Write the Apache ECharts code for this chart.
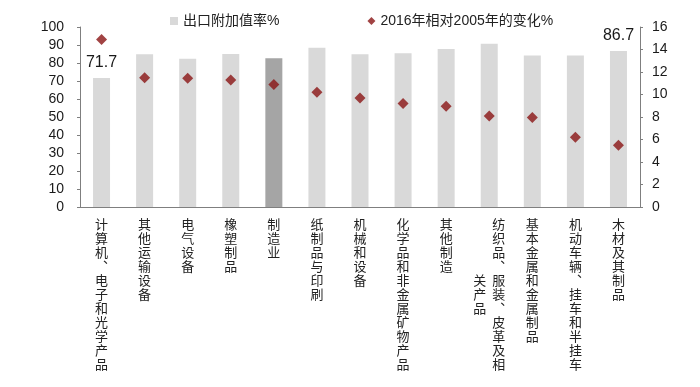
<!DOCTYPE html>
<html><head><meta charset="utf-8">
<script src="https://cdn.jsdelivr.net/npm/echarts@6/dist/echarts.min.js"></script>
<style>html,body{margin:0;padding:0;background:#fff}#c{width:700px;height:387px}</style>
</head><body><div id="c"></div>
<script>
var categories = ['计算机、电子和光学产品','其他运输设备','电气设备','橡塑制品','制造业','纸制品与印刷','机械和设备','化学品和非金属矿物产品','其他制造','纺织品、服装、皮革及相关产品','基本金属和金属制品','机动车辆、挂车和半挂车','木材及其制品'];
var valueAddedRate = [71.7, 84.8, 82.4, 85.0, 82.6, 88.5, 84.8, 85.4, 87.8, 90.7, 84.1, 84.1, 86.7];
var change2016vs2005 = [14.9, 11.5, 11.45, 11.3, 10.9, 10.2, 9.7, 9.2, 8.95, 8.1, 7.95, 6.2, 5.5];
var leftTicks = {min: 0, max: 100, interval: 10};
var rightTicks = {min: 0, max: 16, interval: 2};
var highlightCategory = '制造业';
var labeledIdx = [0, 12];

var MAXROWS = 11;
function vchar(ch) { return ch === '、' ? '︑' : ch; }
function vertLabel(v) {
  var chars = Array.from(v).map(vchar);
  if (chars.length <= MAXROWS) {
    return chars.map(function(ch){ return '{c|' + ch + '}'; }).join('\n');
  }
  var col1 = chars.slice(0, MAXROWS), col2 = chars.slice(MAXROWS);
  var start = Math.floor((MAXROWS - col2.length) / 2);
  var lines = [];
  for (var i = 0; i < MAXROWS; i++) {
    var left = (i >= start && i < start + col2.length) ? col2[i - start] : '　';
    lines.push('{w|' + left + '}{w|' + col1[i] + '}');
  }
  return lines.join('\n');
}

var barData = valueAddedRate.map(function(v, i){
  var item = {value: v};
  if (categories[i] === highlightCategory) item.itemStyle = {color: '#a5a5a5'};
  if (labeledIdx.indexOf(i) >= 0) item.label = {show: true, position: 'top', distance: 7, fontSize: 16, color: '#1a1a1a', fontFamily: 'Liberation Sans, Arial'};
  return item;
});

var chart = echarts.init(document.getElementById('c'), null, {renderer: 'canvas'});
chart.setOption({
  backgroundColor: '#fff',
  animation: false,
  textStyle: {fontFamily: 'Liberation Sans, Arial, Noto Sans CJK SC'},
  legend: {
    left: 165, top: 9, itemGap: 88, itemWidth: 8, itemHeight: 8,
    textStyle: {fontSize: 14, color: '#222', fontFamily: 'Liberation Sans, Noto Sans CJK SC'},
    data: [{name: '出口附加值率%', icon: 'rect'}, {name: '2016年相对2005年的变化%', icon: 'diamond'}]
  },
  grid: {left: 80, right: 60, top: 27, bottom: 180},
  xAxis: {
    type: 'category', data: categories,
    axisLine: {lineStyle: {color: '#7f7f7f', width: 1}},
    axisTick: {show: false},
    axisLabel: {
      interval: 0, margin: 10, formatter: vertLabel,
      rich: {
        c: {fontSize: 13, lineHeight: 14, color: '#222', fontFamily: 'Noto Sans CJK SC', align: 'center'},
        w: {fontSize: 13, lineHeight: 14, width: 19, color: '#222', fontFamily: 'Noto Sans CJK SC', align: 'center'}
      }
    }
  },
  yAxis: [
    {type: 'value', min: leftTicks.min, max: leftTicks.max, interval: leftTicks.interval,
     axisLine: {show: true, lineStyle: {color: '#7f7f7f'}},
     axisTick: {show: true, length: 3, lineStyle: {color: '#7f7f7f'}},
     splitLine: {show: false},
     axisLabel: {fontSize: 14, color: '#1a1a1a', margin: 16}},
    {type: 'value', min: rightTicks.min, max: rightTicks.max, interval: rightTicks.interval, position: 'right',
     axisLine: {show: true, lineStyle: {color: '#7f7f7f'}},
     axisTick: {show: true, length: 3, lineStyle: {color: '#7f7f7f'}},
     splitLine: {show: false},
     axisLabel: {fontSize: 14, color: '#1a1a1a', margin: 12}}
  ],
  series: [
    {name: '出口附加值率%', type: 'bar', yAxisIndex: 0, barWidth: 17, data: barData,
     itemStyle: {color: '#d9d9d9'}},
    {name: '2016年相对2005年的变化%', type: 'scatter', yAxisIndex: 1, symbol: 'diamond', symbolSize: 11,
     data: change2016vs2005, itemStyle: {color: '#8a1414'}}
  ]
});
</script></body></html>
